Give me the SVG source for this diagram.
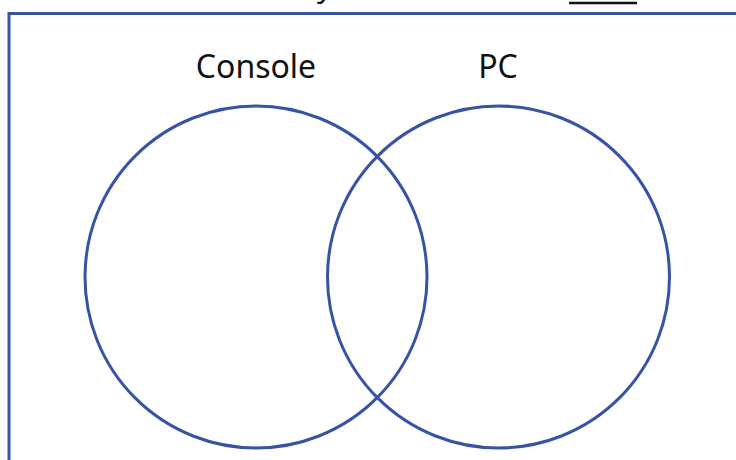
<svg xmlns="http://www.w3.org/2000/svg" width="736" height="460" viewBox="0 0 736 460">
<style>
.ring{fill:none;stroke:#3653A4;stroke-width:3}
.lbl{font-family:"Noto Sans","Open Sans",sans-serif;font-size:32px;fill:#111;text-anchor:middle}
</style>
<rect width="736" height="460" fill="#fff"/>
<g id="frame">
<path d="M9 462 V13.5 H740" fill="none" stroke="#3653A4" stroke-width="3"/>
</g>
<g id="top-fragments">
<text x="317" y="-3" font-family="Noto Sans, sans-serif" font-size="30" fill="#111">y</text>
<line x1="569" y1="3" x2="637" y2="3" stroke="#111" stroke-width="2.5"/>
</g>
<g id="console">
<circle class="ring" cx="256" cy="277" r="171"/>
<text class="lbl" x="256" y="78">Console</text>
</g>
<g id="pc">
<circle class="ring" cx="498.5" cy="277" r="171"/>
<text class="lbl" x="498" y="78">PC</text>
</g>
<g id="connectors"/>
</svg>
